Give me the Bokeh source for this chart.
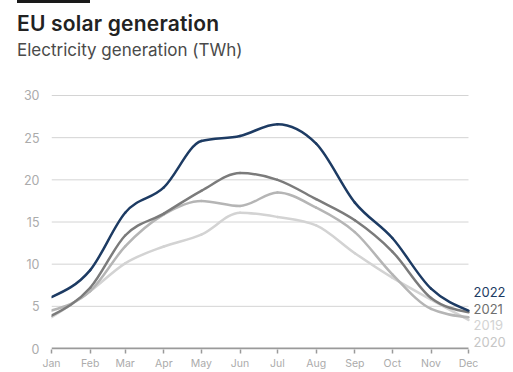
import datetime
from bokeh.plotting import figure
from bokeh.layouts import column
from bokeh.models import Range1d, FixedTicker, ColumnDataSource, Div
from bokeh.core.properties import value
from bokeh.embed import file_html
from bokeh.resources import INLINE

# ---------------- data ----------------
months = ["Jan", "Feb", "Mar", "Apr", "May", "Jun", "Jul", "Aug", "Sep", "Oct", "Nov", "Dec"]
y2022 = [6.1, 9.3, 16.1, 19.1, 24.6, 25.2, 26.6, 24.3, 17.3, 13.1, 7.1, 4.5]
y2021 = [3.9, 7.2, 13.4, 16.0, 18.7, 20.8, 20.0, 17.7, 15.2, 11.5, 6.0, 4.3]
y2020 = [4.5, 6.8, 12.1, 15.9, 17.5, 16.9, 18.5, 16.7, 13.8, 8.8, 4.7, 3.7]
y2019 = [3.7, 6.8, 10.1, 12.1, 13.5, 16.1, 15.6, 14.6, 11.3, 8.4, 5.8, 3.4]
y_ticks = [0, 5, 10, 15, 20, 25, 30]
label_order = ["2022", "2021", "2019", "2020"]
title = "EU solar generation"
subtitle = "Electricity generation (TWh)"

series = {"2019": y2019, "2020": y2020, "2021": y2021, "2022": y2022}
colors = {"2022": "#1d3b63", "2021": "#7b7b7b", "2020": "#b5b5b5", "2019": "#d3d3d3"}
label_colors = {"2022": "#1d3b63", "2021": "#6e6e6e", "2020": "#c6c6c6", "2019": "#d3d3d3"}

FONT = "Inter"

# x positions: day of year of the first of each month
x_days = [(datetime.date(2022, m, 1) - datetime.date(2022, 1, 1)).days for m in range(1, 13)]


def monotone_segments(xs, ys):
    """Cubic Bezier segments of a monotone-x curve (as d3.curveMonotoneX)."""
    n = len(xs)
    h = [xs[i + 1] - xs[i] for i in range(n - 1)]
    s = [(ys[i + 1] - ys[i]) / h[i] for i in range(n - 1)]
    sign = lambda v: -1.0 if v < 0 else 1.0
    t = [0.0] * n
    for i in range(1, n - 1):
        p = (s[i - 1] * h[i] + s[i] * h[i - 1]) / (h[i - 1] + h[i])
        t[i] = (sign(s[i - 1]) + sign(s[i])) * min(abs(s[i - 1]), abs(s[i]), 0.5 * abs(p))
    t[0] = (3 * s[0] - t[1]) / 2
    t[-1] = (3 * s[-1] - t[-2]) / 2
    seg = dict(x0=[], y0=[], x1=[], y1=[], cx0=[], cy0=[], cx1=[], cy1=[])
    for i in range(n - 1):
        dx = h[i] / 3
        seg["x0"].append(xs[i]); seg["y0"].append(ys[i])
        seg["x1"].append(xs[i + 1]); seg["y1"].append(ys[i + 1])
        seg["cx0"].append(xs[i] + dx); seg["cy0"].append(ys[i] + dx * t[i])
        seg["cx1"].append(xs[i + 1] - dx); seg["cy1"].append(ys[i + 1] - dx * t[i + 1])
    return seg


# ---------------- header ----------------
header = Div(width=513, height=80, styles={"margin": "0", "padding": "0"}, text=f"""
<div style="position:relative;width:513px;height:80px;font-family:'{FONT}',sans-serif;">
  <div style="position:absolute;left:17px;top:0;width:73px;height:3px;background:#1a1a1a;"></div>
  <div style="position:absolute;left:17px;top:12px;font-size:21px;line-height:24px;font-weight:600;color:#222222;white-space:nowrap;letter-spacing:0.2px;">{title}</div>
  <div style="position:absolute;left:17px;top:40px;font-size:17px;line-height:20px;font-weight:400;color:#4a4a4a;white-space:nowrap;">{subtitle}</div>
</div>""")

# ---------------- chart ----------------
px_per_day = 417 / (x_days[-1] - x_days[0])
px_per_unit = 257 / 30
p = figure(width=513, height=292, output_backend="svg", toolbar_location=None,
           x_range=Range1d(x_days[0], x_days[-1] + 45 / px_per_day),
           y_range=Range1d(-1 / px_per_unit, 30 + 1 / px_per_unit),
           min_border_left=51, min_border_right=0, min_border_top=14, min_border_bottom=19)
p.outline_line_color = None
p.background_fill_color = "white"
p.border_fill_color = "white"

# grid lines and baseline, spanning Jan..Dec only
grid_src = ColumnDataSource(dict(x0=[x_days[0]] * (len(y_ticks) - 1), x1=[x_days[-1]] * (len(y_ticks) - 1),
                                 y=y_ticks[1:]))
p.segment(x0="x0", y0="y", x1="x1", y1="y", source=grid_src, line_color="#d4d4d4", line_width=1)

for yr in ["2019", "2020", "2021", "2022"]:
    src = ColumnDataSource(monotone_segments(x_days, series[yr]))
    p.bezier(x0="x0", y0="y0", x1="x1", y1="y1", cx0="cx0", cy0="cy0", cx1="cx1", cy1="cy1",
             source=src, line_color=colors[yr], line_width=2.5, line_cap="round")

p.segment(x0=[x_days[0]], y0=[y_ticks[0]], x1=[x_days[-1]], y1=[y_ticks[0]],
          line_color="#9a9a9a", line_width=2)

# end labels, spread evenly around the mean of the December values
ends = [series[k][-1] for k in label_order]
center = sum(ends) / len(ends)
spacing = 1.97
lab_src = ColumnDataSource(dict(x=[x_days[-1]] * len(label_order),
                                y=[center + (1.5 - i) * spacing for i in range(len(label_order))],
                                text=label_order, color=[label_colors[k] for k in label_order]))
p.text(x="x", y="y", text="text", source=lab_src, x_offset=5, y_offset=2, text_color="color",
       text_font=value(FONT), text_font_size="13px", text_baseline="middle", text_align="left")

# axes
p.xaxis.ticker = FixedTicker(ticks=x_days)
p.xaxis.major_label_overrides = {d: m for d, m in zip(x_days, months)}
p.xaxis.axis_line_color = None
p.xaxis.major_tick_line_color = "#9a9a9a"
p.xaxis.major_tick_line_width = 1.5
p.xaxis.major_tick_out = 4
p.xaxis.major_tick_in = 0
p.xaxis.minor_tick_line_color = None
p.xaxis.major_label_text_color = "#ababab"
p.xaxis.major_label_text_font = FONT
p.xaxis.major_label_text_font_size = "10.5px"
p.xaxis.major_label_standoff = 3

p.yaxis.ticker = FixedTicker(ticks=y_ticks)
p.yaxis.axis_line_color = None
p.yaxis.major_tick_line_color = None
p.yaxis.minor_tick_line_color = None
p.yaxis.major_label_text_color = "#ababab"
p.yaxis.major_label_text_font = FONT
p.yaxis.major_label_text_font_size = "12.5px"
p.yaxis.major_label_standoff = 6

p.xgrid.grid_line_color = None
p.ygrid.grid_line_color = None

layout = column(header, p, spacing=0)
open("out.html", "w").write(file_html(layout, INLINE))
